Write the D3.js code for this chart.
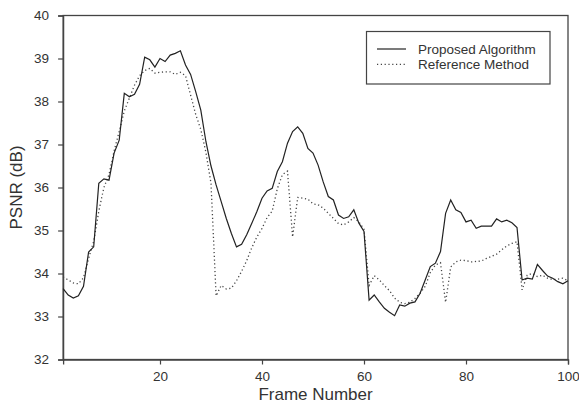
<!DOCTYPE html>
<html><head><meta charset="utf-8">
<script src="https://cdn.jsdelivr.net/npm/d3@7"></script>
<style>body{margin:0;background:#fff}svg{display:block;font-family:Arial,"Liberation Sans",sans-serif}</style>
</head><body><svg id="c" width="579" height="406"></svg>
<script>
const frames = d3.range(1, 101);
const proposed = [33.65,33.5,33.43,33.48,33.7,34.5,34.62,36.1,36.2,36.17,
36.8,37.1,38.19,38.11,38.17,38.4,39.03,38.97,38.8,39.0,
38.93,39.08,39.12,39.18,38.85,38.63,38.23,37.8,37.07,36.5,
36.06,35.67,35.28,34.93,34.62,34.68,34.9,35.17,35.44,35.75,
35.92,35.98,36.37,36.6,37.03,37.3,37.41,37.26,36.91,36.8,
36.52,36.13,35.79,35.71,35.36,35.28,35.32,35.48,35.17,34.98,
33.38,33.5,33.34,33.19,33.1,33.02,33.27,33.24,33.31,33.34,
33.54,33.85,34.16,34.24,34.51,35.4,35.71,35.48,35.42,35.2,
35.24,35.05,35.1,35.1,35.1,35.27,35.2,35.24,35.18,35.07,
33.85,33.89,33.87,34.21,34.07,33.94,33.89,33.81,33.76,33.83];
const reference = [33.92,33.85,33.78,33.76,33.9,34.35,34.75,35.45,36.0,36.3,
36.85,37.3,37.78,38.08,38.38,38.6,38.72,38.77,38.66,38.68,
38.69,38.69,38.63,38.68,38.6,38.15,37.7,37.35,36.82,36.1,
33.48,33.72,33.64,33.66,33.83,34.05,34.3,34.6,34.85,35.05,
35.3,35.45,35.97,36.3,36.38,34.85,35.77,35.75,35.73,35.62,
35.6,35.52,35.4,35.28,35.16,35.13,35.2,35.3,35.2,35.03,
33.72,33.95,33.85,33.72,33.6,33.43,33.33,33.3,33.33,33.42,
33.54,33.7,34.02,34.2,34.25,33.33,34.15,34.27,34.31,34.3,
34.27,34.28,34.29,34.35,34.4,34.45,34.55,34.64,34.7,34.74,
33.62,33.96,34.0,33.93,33.96,33.89,33.86,33.87,33.89,33.83];
const xTicks = [20,40,60,80,100];
const yTicks = [32,33,34,35,36,37,38,39,40];
const seriesNames = ["Proposed Algorithm","Reference Method"];

const svg = d3.select("#c");
const L=63.1, R=568, T=15.5, B=359.5;
const x = d3.scaleLinear().domain([1,100]).range([L,R]);
const y = d3.scaleLinear().domain([32,40]).range([B,T]);
const ink = "#333";

// frame
svg.append("rect").attr("x",L).attr("y",T).attr("width",R-L).attr("height",B-T)
  .attr("fill","none").attr("stroke","#444").attr("stroke-width",1.3);

const yAxis = svg.append("g").attr("transform",`translate(${L},0)`)
  .call(d3.axisLeft(y).tickValues(yTicks).tickSize(5).tickPadding(9).tickFormat(d3.format("d")));
const xAxis = svg.append("g").attr("transform",`translate(0,${B})`)
  .call(d3.axisBottom(x).tickValues(xTicks).tickSize(5).tickPadding(7).tickFormat(d3.format("d")));
[yAxis,xAxis].forEach(a=>{
  a.select(".domain").attr("stroke","#444").attr("stroke-width",1.3);
  a.selectAll(".tick line").attr("stroke","#444").attr("stroke-width",1.2);
  a.selectAll(".tick text").attr("fill",ink).attr("font-size",13.5).attr("font-family","Arial, 'Liberation Sans', sans-serif");
});

const line = d3.line().x((d,i)=>x(frames[i])).y(d=>y(d));
svg.append("path").datum(reference).attr("d",line).attr("fill","none")
  .attr("stroke","#444").attr("stroke-width",1.3).attr("stroke-dasharray","1.2,2.6");
svg.append("path").datum(proposed).attr("d",line).attr("fill","none")
  .attr("stroke","#222").attr("stroke-width",1.2);

// legend
const lg = svg.append("g");
lg.append("rect").attr("x",366.5).attr("y",31.5).attr("width",183.5).attr("height",52.5)
  .attr("fill","#fff").attr("stroke","#444").attr("stroke-width",1.2);
[0,1].forEach(i=>{
  const yy = 49 + i*15.3;
  lg.append("line").attr("x1",377).attr("x2",406).attr("y1",yy).attr("y2",yy)
    .attr("stroke", i? "#444":"#222").attr("stroke-width",1.2)
    .attr("stroke-dasharray", i? "1.2,2.6":null);
  lg.append("text").attr("x",418).attr("y",yy+4.5).attr("font-size",13.5).attr("fill",ink)
    .text(seriesNames[i]);
});

svg.append("text").attr("x",(L+R)/2).attr("y",400).attr("text-anchor","middle")
  .attr("font-size",17).attr("fill",ink).text("Frame Number");
svg.append("text").attr("transform",`translate(22,${(T+B)/2}) rotate(-90)`).attr("text-anchor","middle")
  .attr("font-size",17).attr("fill",ink).text("PSNR (dB)");
</script></body></html>
